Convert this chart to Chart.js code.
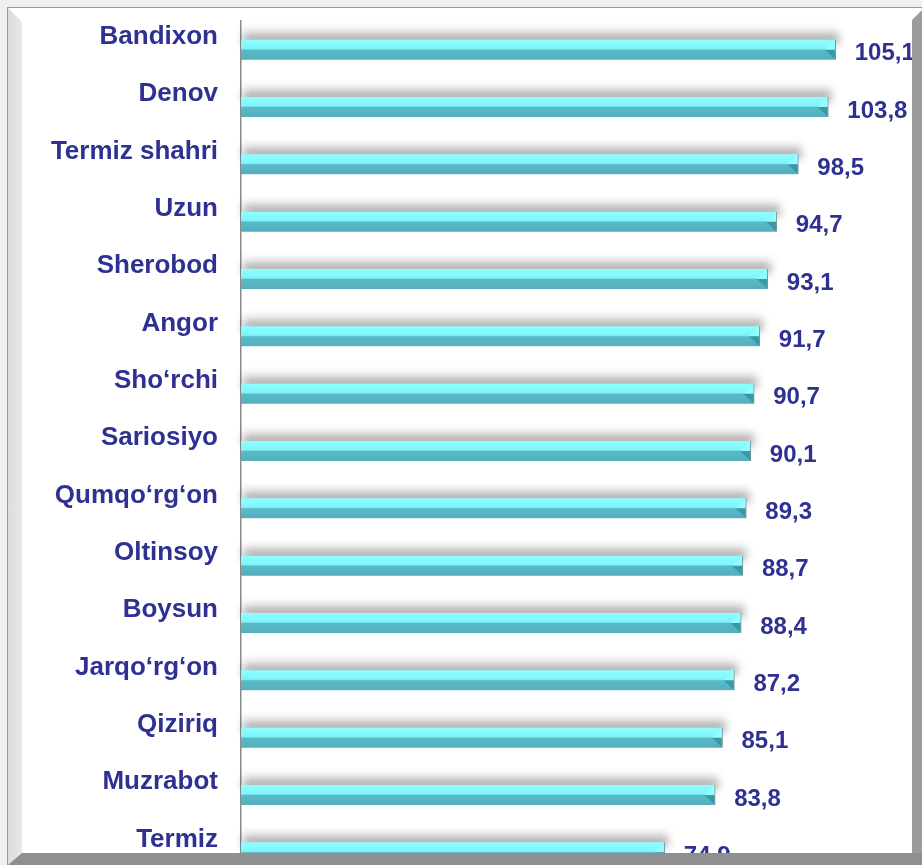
<!DOCTYPE html>
<html>
<head>
<meta charset="utf-8">
<script src="https://cdn.jsdelivr.net/npm/chart.js@4/dist/chart.umd.min.js"></script>
<style>
  html, body { margin: 0; padding: 0; width: 922px; height: 865px; overflow: hidden; background: #f0f0f0; }
  #panel { position: absolute; left: 7px; top: 7px; width: 915px; height: 858px; background: #fff;
           border-left: 1px solid #9a9a9a; border-top: 1px solid #9a9a9a; }
  #bevel { position: absolute; left: 8px; top: 8px; width: 14px; height: 857px;
           background: linear-gradient(to right, #dcdcdc, #e8e8e8);
           clip-path: polygon(0 0, 100% 14px, 100% 100%, 0 100%); }
  #wrap { position: absolute; left: 0; top: 0; width: 922px; height: 900px; }
  #right { position: absolute; left: 912px; top: 10px; width: 10px; height: 855px; background: #9b9b9b;
           clip-path: polygon(0 10px, 100% 0, 100% 100%, 0 100%); }
  #bottom { position: absolute; left: 8px; top: 853px; width: 914px; height: 12px; background: #8f8f8f;
            clip-path: polygon(14px 0, 100% 0, 100% 100%, 0 100%); }
</style>
</head>
<body>
<div id="panel"></div>
<div id="bevel"></div>
<div id="wrap"><canvas id="chart" width="922" height="900"></canvas></div>
<div id="right"></div>
<div id="bottom"></div>
<script>
const districts = ['Bandixon', 'Denov', 'Termiz shahri', 'Uzun', 'Sherobod', 'Angor', 'Sho‘rchi', 'Sariosiyo',
    'Qumqo‘rg‘on', 'Oltinsoy', 'Boysun', 'Jarqo‘rg‘on', 'Qiziriq', 'Muzrabot', 'Termiz'];
const values = [105.1, 103.8, 98.5, 94.7, 93.1, 91.7, 90.7, 90.1, 89.3, 88.7, 88.4, 87.2, 85.1, 83.8, 74.9];

const textColor = '#2e3192';

function barFill(c) {
    const chart = c.chart;
    if (!chart.chartArea) return '#6fe0e8';
    const y = chart.scales.y.getPixelForValue(c.dataIndex);
    const g = chart.ctx.createLinearGradient(0, y - 10, 0, y + 10);
    g.addColorStop(0, '#8cffff');
    g.addColorStop(0.45, '#80f4fa');
    g.addColorStop(0.52, '#5cbac8');
    g.addColorStop(1, '#52aebe');
    return g;
}

// soft grey shadow sitting above each bar
const shadowPlugin = {
    id: 'shadow',
    beforeDatasetsDraw(chart) {
        const ctx = chart.ctx;
        const meta = chart.getDatasetMeta(0);
        ctx.save();
        ctx.filter = 'blur(4px)';
        meta.data.forEach(bar => {
            const g = ctx.createLinearGradient(0, bar.y - 22, 0, bar.y - 8);
            g.addColorStop(0, 'rgba(0,0,0,0)');
            g.addColorStop(1, 'rgba(0,0,0,0.42)');
            ctx.fillStyle = g;
            ctx.fillRect(bar.base + 2, bar.y - 20, bar.x - bar.base + 1, 14);
        });
        ctx.restore();
    }
};

const valueLabels = {
    id: 'valueLabels',
    afterDatasetsDraw(chart) {
        const ctx = chart.ctx;
        const meta = chart.getDatasetMeta(0);
        ctx.save();
        meta.data.forEach((bar, i) => {
            // bevel at the bar end
            ctx.fillStyle = 'rgba(150,255,255,0.9)';
            ctx.beginPath();
            ctx.moveTo(bar.x - 1, bar.y - 9);
            ctx.lineTo(bar.x - 11, bar.y);
            ctx.lineTo(bar.x - 1, bar.y);
            ctx.closePath();
            ctx.fill();
            ctx.fillStyle = 'rgba(40,130,145,0.6)';
            ctx.beginPath();
            ctx.moveTo(bar.x - 11, bar.y);
            ctx.lineTo(bar.x - 1, bar.y);
            ctx.lineTo(bar.x - 1, bar.y + 9);
            ctx.closePath();
            ctx.fill();
        });
        ctx.font = 'bold 24px "Liberation Sans", Arial, sans-serif';
        ctx.fillStyle = textColor;
        ctx.textBaseline = 'middle';
        ctx.textAlign = 'left';
        meta.data.forEach((bar, i) => {
            ctx.fillText(values[i].toFixed(1).replace('.', ','), bar.x + 19, bar.y + 4);
        });
        ctx.restore();
    }
};

new Chart(document.getElementById('chart').getContext('2d'), {
    type: 'bar',
    data: {
        labels: districts,
        datasets: [{
            data: values,
            backgroundColor: barFill,
            borderColor: '#7a8f94',
            borderWidth: { top: 0, bottom: 0, right: 1, left: 0 },
            borderSkipped: false,
            barThickness: 20
        }]
    },
    options: {
        indexAxis: 'y',
        responsive: false,
        animation: false,
        events: [],
        layout: { padding: { top: 21, bottom: 19, right: 2, left: 0 } },
        plugins: { legend: { display: false }, tooltip: { enabled: false } },
        scales: {
            x: { display: false, min: 0, max: 120 },
            y: {
                afterFit(scale) {
                    scale.width = 241;
                    scale.paddingTop = 0;
                    scale.paddingBottom = 0;
                },
                grid: { display: false, drawTicks: false },
                border: { display: true, color: '#8a8a8a', width: 1.5 },
                ticks: {
                    autoSkip: false,
                    padding: 23,
                    color: textColor,
                    font: { family: '"Liberation Sans", Arial, sans-serif', size: 26, weight: 'bold', lineHeight: '26px' },
                    callback(v) { return [districts[v], '']; }
                }
            }
        }
    },
    plugins: [shadowPlugin, valueLabels]
});
</script>
</body>
</html>
